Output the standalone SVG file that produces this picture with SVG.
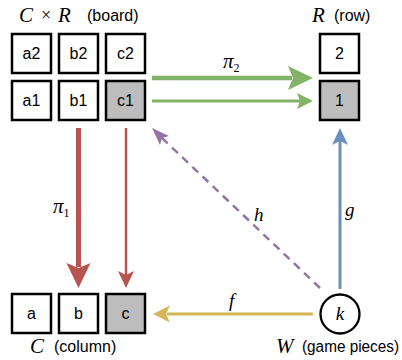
<svg xmlns="http://www.w3.org/2000/svg" width="402" height="360" viewBox="0 0 402 360">
<style>
.box{fill:#fff;stroke:#000;stroke-width:2.5}
.gray{fill:#bdbdbd}
.t{font-family:"Liberation Sans",Arial,sans-serif;font-size:16px;text-anchor:middle;fill:#000}
.lab{font-family:"Liberation Sans",Arial,sans-serif;font-size:16px;fill:#000}
.m{font-family:"Liberation Serif","Times New Roman",serif;font-style:italic;font-size:21px;fill:#000}
.mm{font-family:"Liberation Serif","Times New Roman",serif;font-style:italic;font-size:19px;fill:#000}
.sub{font-family:"Liberation Serif","Times New Roman",serif;font-size:12px;font-style:normal}
</style>
<rect width="402" height="360" fill="#fff"/>
<g id="connectors">
  <line x1="152" y1="78" x2="292" y2="78" stroke="#82b366" stroke-width="4.5"/>
  <polygon points="313,78 288,66 293,78 288,90" fill="#82b366"/>
  <line x1="152" y1="101" x2="300" y2="101" stroke="#82b366" stroke-width="3"/>
  <polygon points="313,101 297,93 300,101 297,109" fill="#82b366"/>
  <line x1="78.5" y1="128" x2="78.5" y2="267" stroke="#b85450" stroke-width="5"/>
  <polygon points="78.5,288 66.5,263 78.5,268 90.5,263" fill="#b85450"/>
  <line x1="126" y1="128" x2="126" y2="275" stroke="#b85450" stroke-width="2.5"/>
  <polygon points="126,288 118,271 126,275 134,271" fill="#b85450"/>
  <line x1="313" y1="314" x2="167" y2="314" stroke="#d6b656" stroke-width="3"/>
  <polygon points="153,314 170,305.5 166,314 170,322.5" fill="#d6b656"/>
  <line x1="340" y1="289" x2="340" y2="141" stroke="#6c8ebf" stroke-width="3"/>
  <polygon points="340,128 348,145 340,141 332,145" fill="#6c8ebf"/>
  <line x1="320" y1="288" x2="162" y2="138" stroke="#9673a6" stroke-width="2.5" stroke-dasharray="8,6"/>
  <polygon points="152,128 169,136 162,138 160,145" fill="#9673a6"/>
  <text class="m" x="223" y="68">π<tspan class="sub" dy="4">2</tspan></text>
  <text class="m" x="53" y="213">π<tspan class="sub" dy="4">1</tspan></text>
  <text class="mm" x="229" y="307">f</text>
  <text class="mm" x="345" y="216">g</text>
  <text class="mm" x="254" y="221">h</text>
</g>
<g id="board">
  <text class="m" x="19" y="22">C</text>
  <text x="46" y="21" font-family="Liberation Serif, serif" font-size="18" text-anchor="middle">×</text>
  <text class="m" x="58" y="22">R</text>
  <text class="lab" x="87" y="21">(board)</text>
</g>
<g id="a2"><rect class="box" x="12" y="34" width="39" height="39"/><text class="t" x="31.5" y="59">a2</text></g>
<g id="b2"><rect class="box" x="59" y="34" width="39" height="39"/><text class="t" x="78.5" y="59">b2</text></g>
<g id="c2"><rect class="box" x="106" y="34" width="39" height="39"/><text class="t" x="125.5" y="59">c2</text></g>
<g id="a1"><rect class="box" x="12" y="81" width="39" height="39"/><text class="t" x="31.5" y="106">a1</text></g>
<g id="b1"><rect class="box" x="59" y="81" width="39" height="39"/><text class="t" x="78.5" y="106">b1</text></g>
<g id="c1"><rect class="box gray" x="106" y="81" width="39" height="39"/><text class="t" x="125.5" y="106">c1</text></g>
<g id="row">
  <text class="m" x="312" y="22">R</text>
  <text class="lab" x="334" y="21">(row)</text>
</g>
<g id="r2"><rect class="box" x="320" y="34" width="39" height="39"/><text class="t" x="339.5" y="59">2</text></g>
<g id="r1"><rect class="box gray" x="320" y="81" width="39" height="39"/><text class="t" x="339.5" y="106">1</text></g>
<g id="a"><rect class="box" x="12" y="294" width="39" height="39"/><text class="t" x="31.5" y="319">a</text></g>
<g id="b"><rect class="box" x="59" y="294" width="39" height="39"/><text class="t" x="78.5" y="319">b</text></g>
<g id="c"><rect class="box gray" x="106" y="294" width="39" height="39"/><text class="t" x="125.5" y="319">c</text></g>
<g id="column">
  <text class="m" x="30" y="353">C</text>
  <text class="lab" x="54" y="352">(column)</text>
</g>
<g id="k">
  <circle cx="340" cy="314" r="19.5" fill="#fff" stroke="#000" stroke-width="2.3"/>
  <text class="mm" x="340" y="320" text-anchor="middle">k</text>
</g>
<g id="gamepieces">
  <text class="m" x="276" y="353">W</text>
  <text class="lab" x="302" y="352" textLength="97" lengthAdjust="spacingAndGlyphs">(game pieces)</text>
</g>
</svg>
